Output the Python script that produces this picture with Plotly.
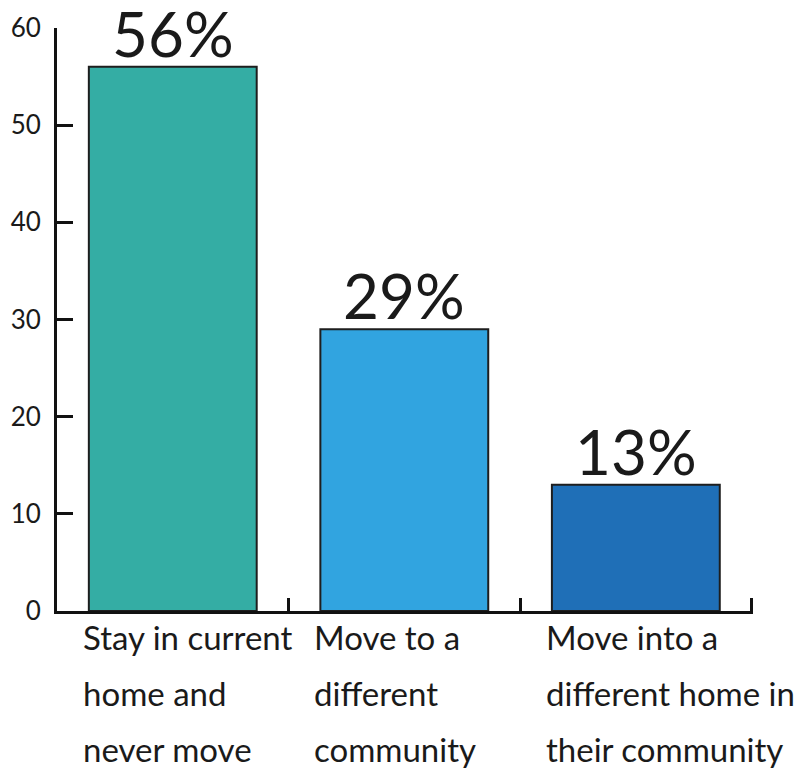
import plotly.graph_objects as go

categories = ["Stay in current<br>home and<br>never move",
              "Move to a<br>different<br>community",
              "Move into a<br>different home in<br>their community"]
values = [56, 29, 13]
value_labels = ["56%", "29%", "13%"]
bar_colors = ["#34ADA4", "#31A4E0", "#1F6FB7"]
y_ticks = [0, 10, 20, 30, 40, 50, 60]

BAR_W = 0.725
FONT = "Lato"
n = len(categories)

fig = go.Figure()
fig.add_trace(go.Bar(
    x=list(range(n)),
    y=values,
    width=BAR_W,
    marker=dict(color=bar_colors, line=dict(color="#1e1e1e", width=2)),
    cliponaxis=False,
    hoverinfo="skip",
))

# value labels just above each bar
for i, (v, lab) in enumerate(zip(values, value_labels)):
    fig.add_annotation(
        x=i, y=v, xref="x", yref="y",
        text=lab, showarrow=False,
        xanchor="center", yanchor="bottom", yshift=-5,
        font=dict(family=FONT, size=62, color="#1a1a1a"),
    )

# category labels, left aligned under each bar, one annotation per line
for i, cat in enumerate(categories):
    for k, line in enumerate(cat.split("<br>")):
        fig.add_annotation(
            x=i - BAR_W / 2, y=0, xref="x", yref="y",
            text=line, showarrow=False,
            xanchor="left", yanchor="top",
            xshift=-8, yshift=-4 - 56 * k,
            font=dict(family=FONT, size=33, color="#1a1a1a"),
        )

fig.update_layout(
    width=811, height=771,
    margin=dict(l=49, r=66, t=20, b=168),
    paper_bgcolor="white", plot_bgcolor="white",
    showlegend=False,
    xaxis=dict(
        range=[-0.5, n - 0.5 + 0.006],
        tickmode="array", tickvals=[i + 0.5 for i in range(n)],
        showticklabels=False,
        showline=True, linecolor="#111", linewidth=3,
        ticks="inside", ticklen=13, tickwidth=3, tickcolor="#111",
        showgrid=False, zeroline=False, automargin=False,
    ),
    yaxis=dict(
        range=[0, 60],
        tickmode="array", tickvals=y_ticks,
        showline=True, linecolor="#111", linewidth=3,
        ticks="inside", ticklen=16, tickwidth=3, tickcolor="#111",
        tickfont=dict(family=FONT, size=26, color="#1a1a1a"),
        ticklabelstandoff=8,
        showgrid=False, zeroline=False, automargin=False,
    ),
)

fig.write_html("out.html")
